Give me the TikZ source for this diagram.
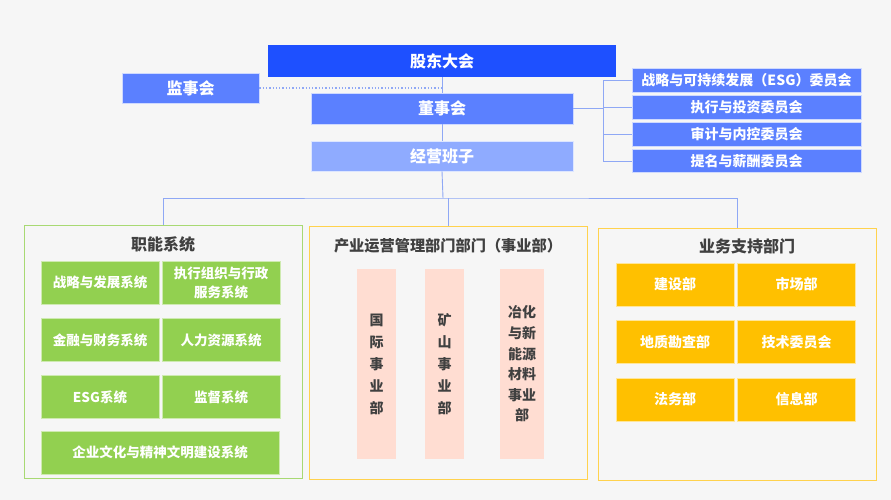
\documentclass[tikz,border=0pt]{standalone}
\usepackage{fontspec}
\setmainfont{Noto Sans CJK SC}
\usepackage{tikz}
\usetikzlibrary{calc}
\definecolor{pagebg}{HTML}{F6F6F6}
\definecolor{topblue}{HTML}{1E50FF}
\definecolor{midblue}{HTML}{5B80FF}
\definecolor{softblue}{HTML}{8FABFF}
\definecolor{linkblue}{HTML}{8FA8F5}
\definecolor{leafgreen}{HTML}{92D050}
\definecolor{gold}{HTML}{FFC000}
\definecolor{framegold}{HTML}{FFD24D}
\definecolor{salmon}{HTML}{FFDDD2}
\definecolor{darktext}{HTML}{404040}
\tikzstyle{link}      = [draw=linkblue,line width=0.9pt]
\tikzstyle{bluebox}   = [rectangle,inner sep=0pt,text=white,font=\bfseries\fontsize{16}{19}\selectfont]
\tikzstyle{committee} = [bluebox,fill=midblue,draw=white!70!midblue,line width=0.6pt,minimum width=229pt,minimum height=23.5pt,font=\bfseries\fontsize{14}{16}\selectfont]
\tikzstyle{frame}     = [rectangle,inner sep=0pt,fill=pagebg,line width=0.9pt]
\tikzstyle{framehead} = [text=darktext,font=\bfseries\fontsize{16}{19}\selectfont]
\tikzstyle{greenbox}  = [rectangle,inner sep=0pt,fill=leafgreen,draw=white!55!leafgreen,line width=0.6pt,text=white,align=center,minimum width=118pt,minimum height=43pt,font=\bfseries\fontsize{13.5}{19}\selectfont]
\tikzstyle{goldbox}   = [greenbox,fill=gold,draw=white!60!gold,font=\bfseries\fontsize{14}{19}\selectfont]
\tikzstyle{pinkbar}   = [rectangle,inner sep=0pt,fill=salmon,text=darktext,align=center,minimum height=190pt,font=\bfseries\fontsize{14}{22}\selectfont]

\begin{document}
\begin{tikzpicture}[x=1pt,y=-1pt]
  \fill[pagebg] (0,0) rectangle (891,500);

  %top of the chart
  \node[bluebox,fill=topblue,minimum width=348pt,minimum height=32pt] (gd) at (442,61) {股东大会};
  \node[bluebox,fill=midblue,draw=white!70!midblue,line width=0.6pt,minimum width=137pt,minimum height=30pt] (jsh) at (190.5,88) {监事会};
  \node[bluebox,fill=midblue,draw=white!70!midblue,line width=0.6pt,minimum width=262pt,minimum height=31pt] (dsh) at (442,108.5) {董事会};
  \node[bluebox,fill=softblue,draw=white!70!softblue,line width=0.6pt,minimum width=262pt,minimum height=30pt] (jybz) at (442,156) {经营班子};

  \draw[link] (gd.south) -- (dsh.north);
  \draw[link] (dsh.south) -- (jybz.north);
  \coordinate (jshend) at (gd.south |- jsh.east);
  \draw[link,line width=1.3pt,dotted] (jsh.east) -- (jshend);

  %committees on the right
  \foreach \txt/\y [count=\i] in {战略与可持续发展（ESG）委员会/80.5,执行与投资委员会/107.5,审计与内控委员会/134.5,提名与薪酬委员会/161}{
    \node[committee] (c\i) at (746.5,\y) {\txt};
    \coordinate (b\i) at (603,\y);
    \draw[link] (b\i) -- (c\i.west);
  }
  \draw[link] (b1) -- (b4);
  \draw[link] (dsh.east) -- (dsh.east -| b1);

  %three frames below
  \node[frame,draw=leafgreen!80!white,minimum width=278pt,minimum height=253pt] (fl) at (163,351.5) {};
  \node[frame,draw=framegold,minimum width=278pt,minimum height=253pt] (fm) at (448,352.5) {};
  \node[frame,draw=framegold,minimum width=278pt,minimum height=252pt] (fr) at (737,354) {};

  \coordinate (split) at (443,198);
  \draw[link] (jybz.south) -- (split);
  \draw[link] (fl.north) |- (split) -| (fr.north);
  \draw[link] (fm.north) -- (fm.north |- split);

  \node[framehead] (hl) at (163,244) {职能系统};
  \node[framehead,font=\bfseries\fontsize{15.2}{18}\selectfont] (hm) at (448,246) {产业运营管理部门部门（事业部）};
  \node[framehead] (hr) at (747,246) {业务支持部门};

  %left frame
  \node[greenbox] (g1) at (100,282.5) {战略与发展系统};
  \node[greenbox] (g2) at (221,282.5) {执行组织与行政\\服务系统};
  \node[greenbox] (g3) at (100,340) {金融与财务系统};
  \node[greenbox] (g4) at (221,340) {人力资源系统};
  \node[greenbox] (g5) at (100,397) {ESG系统};
  \node[greenbox] (g6) at (221,397) {监督系统};
  \node[greenbox,minimum width=238pt] (g7) at (160,452.5) {企业文化与精神文明建设系统};

  %middle frame
  \node[pinkbar,minimum width=39pt] (p1) at (376.5,364) {国\\际\\事\\业\\部};
  \node[pinkbar,minimum width=39pt] (p2) at (444.5,364) {矿\\山\\事\\业\\部};
  \node[pinkbar,minimum width=44pt,font=\bfseries\fontsize{14}{20.6}\selectfont] (p3) at (522,364) {冶化\\与新\\能源\\材料\\事业\\部};

  %right frame
  \foreach \txt/\x/\y [count=\i] in {建设部/675/284.5,市场部/796.5/284.5,地质勘查部/675/342,技术委员会/796.5/342,法务部/675/399.5,信息部/796.5/399.5}{
    \node[goldbox] (y\i) at (\x,\y) {\txt};
  }
\end{tikzpicture}
\end{document}
